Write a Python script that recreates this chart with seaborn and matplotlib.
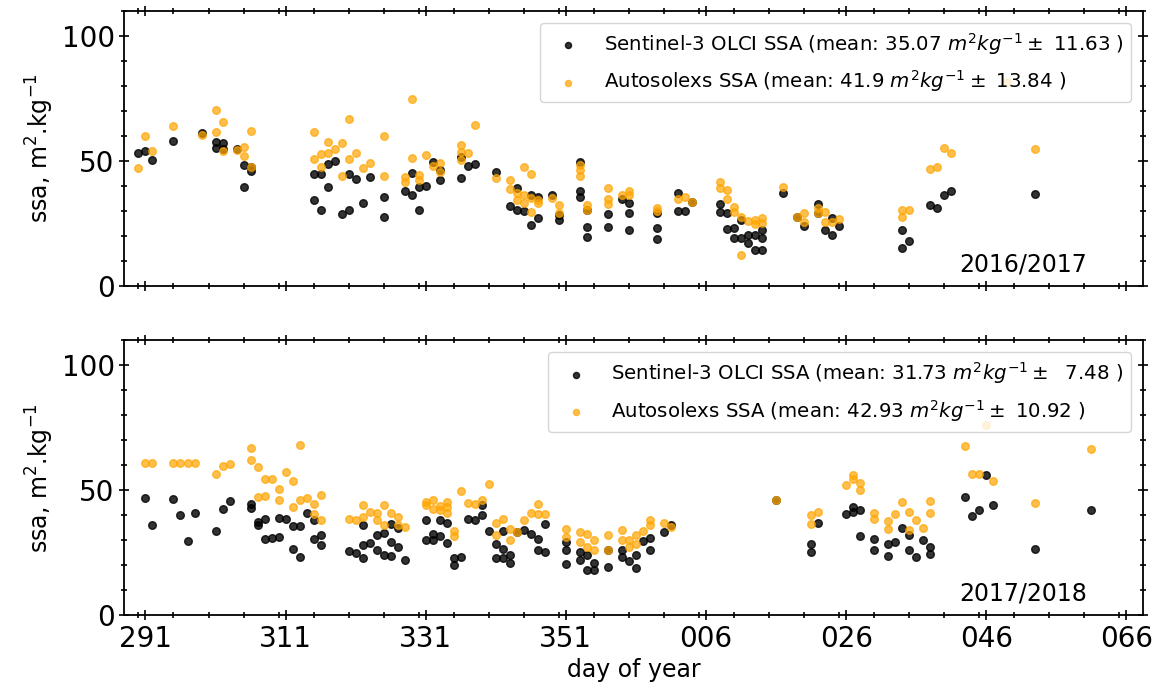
import matplotlib
matplotlib.use("Agg")
import matplotlib.pyplot as plt
from matplotlib.ticker import MultipleLocator
import seaborn as sns

# day of year, continuing past 365 for the new year (371 = day 006)
tick_pos = [291, 311, 331, 351, 371, 391, 411, 431]
tick_labels = ["291", "311", "331", "351", "006", "026", "046", "066"]

# 2016/2017 season
olci_day_1617 = [290, 291, 292, 295, 299, 301, 301, 302, 302, 304, 305, 305, 306, 306,
                 315, 315, 316, 316, 317, 317, 318, 319, 320, 320, 321, 322, 323, 325, 325,
                 328, 329, 329, 330, 330, 331, 332, 333, 333, 336, 336, 337, 338,
                 341, 343, 344, 344, 345, 346, 346, 347, 347, 349, 350, 350, 353, 353, 353,
                 354, 354, 354, 357, 357, 359, 360, 360, 360, 364, 364, 364, 367, 367, 368,
                 369, 373, 373, 374, 374, 375, 375, 376, 376, 377, 377, 378, 378, 379, 379, 379,
                 382, 384, 385, 387, 387, 388, 389, 389, 390, 399, 399, 400, 403, 404, 405,
                 406, 418]
olci_ssa_1617 = [53.0, 53.9, 50.3, 57.8, 61.2, 57.4, 55.2, 57.2, 54.9, 54.9, 48.3, 39.5, 45.9, 47.6,
                 44.7, 34.3, 44.7, 30.3, 48.7, 39.7, 49.9, 28.6, 44.7, 30.3, 42.6, 33.2, 43.4, 35.6, 27.4,
                 38.0, 36.3, 45.0, 30.5, 39.6, 39.9, 49.6, 42.3, 46.3, 43.2, 51.6, 47.9, 48.6,
                 45.4, 32.0, 39.0, 30.3, 30.0, 24.3, 36.3, 27.2, 35.6, 36.3, 26.3, 28.3, 49.4, 38.0, 35.6,
                 23.6, 19.6, 30.3, 28.7, 23.6, 34.7, 33.2, 29.0, 22.3, 29.0, 23.0, 18.7, 37.0, 30.0, 30.0,
                 33.6, 32.7, 29.6, 29.0, 22.7, 23.0, 19.0, 19.0, 26.3, 20.3, 17.2, 20.3, 14.3, 19.0, 14.3, 22.3,
                 37.0, 27.6, 23.9, 32.7, 29.0, 22.5, 20.3, 27.0, 23.9, 22.3, 15.0, 18.0, 32.3, 31.0, 36.3,
                 38.0, 36.7]
auto_day_1617 = [290, 291, 292, 295, 299, 301, 301, 302, 302, 304, 305, 305, 306, 306,
                 315, 315, 316, 316, 317, 317, 318, 319, 319, 320, 320, 321, 322, 323, 325, 325,
                 328, 328, 329, 329, 330, 330, 331, 332, 333, 333, 336, 336, 336, 337, 338,
                 341, 343, 343, 344, 344, 345, 345, 345, 346, 346, 346, 347, 347, 349, 350, 350,
                 353, 353, 353, 354, 354, 357, 357, 357, 359, 360, 360, 364, 364, 367, 368, 369,
                 373, 373, 374, 374, 375, 375, 376, 376, 377, 378, 378, 379, 379,
                 382, 384, 385, 385, 387, 387, 388, 388, 389, 390, 399, 399, 400, 403, 404,
                 405, 406, 414, 418]
auto_ssa_1617 = [47.2, 60.1, 53.9, 64.1, 60.3, 70.5, 61.6, 65.5, 53.9, 54.5, 55.6, 51.9, 61.9, 47.6,
                 61.4, 50.6, 52.7, 47.4, 57.6, 53.2, 54.7, 57.0, 44.0, 66.8, 50.8, 53.2, 47.0, 49.2, 59.9, 43.9,
                 41.6, 43.6, 51.0, 74.7, 44.3, 42.3, 52.2, 47.9, 49.0, 45.6, 56.3, 53.6, 50.3, 53.0, 64.3,
                 43.0, 42.3, 38.7, 37.0, 34.3, 47.4, 36.3, 33.0, 44.7, 35.0, 29.6, 34.3, 33.0, 35.0, 32.3, 29.0,
                 48.3, 46.3, 44.0, 32.3, 30.3, 39.3, 34.6, 32.7, 36.3, 38.0, 36.3, 31.1, 30.0, 34.7, 35.6, 33.6,
                 41.6, 39.0, 38.3, 34.6, 31.6, 29.6, 27.6, 12.3, 26.0, 26.3, 24.7, 27.0, 25.2,
                 39.6, 27.6, 29.0, 25.6, 31.0, 29.0, 29.6, 25.6, 25.6, 26.7, 27.6, 30.3, 30.3, 46.7, 47.4,
                 55.3, 53.2, 81.6, 54.9]

# 2017/2018 season
olci_day_1718 = [291, 292, 295, 296, 297, 298, 301, 302, 303, 306, 306, 307, 307, 308, 308, 309,
                 310, 310, 311, 312, 312, 313, 313, 314, 315, 315, 316, 316,
                 320, 321, 322, 322, 322, 323, 324, 324, 325, 325, 326, 326, 326, 327, 327, 328,
                 331, 331, 332, 332, 333, 333, 334, 334, 335, 335, 336, 337, 338, 339, 339, 340,
                 341, 341, 342, 342, 342, 343, 343, 344, 345, 346, 347, 347, 348, 348,
                 351, 351, 351, 353, 353, 354, 354, 355, 355, 357, 357, 359, 359, 360, 361, 361,
                 362, 363, 363, 365, 366,
                 381, 386, 386, 387, 391, 392, 392, 393, 393, 395, 395, 397, 397, 398, 399, 400,
                 400, 401, 402, 403, 403, 408, 409, 410, 411, 412, 418, 426]
olci_ssa_1718 = [46.9, 36.0, 46.7, 40.3, 29.6, 40.9, 33.6, 42.4, 45.7, 44.7, 42.9, 37.3, 36.3, 38.4, 30.7, 31.1,
                 31.3, 39.1, 38.4, 35.7, 26.7, 35.7, 23.1, 41.1, 38.0, 30.7, 32.0, 28.0,
                 25.6, 24.9, 22.7, 28.0, 36.0, 28.9, 32.0, 26.0, 33.0, 24.0, 36.7, 29.3, 23.6, 35.1, 27.3, 22.0,
                 38.0, 30.3, 30.3, 32.7, 38.0, 31.6, 36.9, 28.9, 22.7, 20.0, 23.1, 38.4, 38.0, 40.0, 44.0, 33.7,
                 28.4, 22.7, 33.7, 22.7, 26.7, 24.0, 20.7, 33.3, 34.3, 32.7, 26.0, 30.7, 25.3, 36.4,
                 20.4, 26.0, 29.3, 22.0, 25.3, 18.0, 24.0, 18.0, 20.7, 19.1, 26.0, 26.0, 23.3, 21.7, 18.7, 24.0,
                 29.7, 31.1, 26.3, 33.3, 36.0,
                 46.3, 28.4, 25.3, 36.9, 40.4, 43.3, 41.3, 42.3, 31.7, 30.7, 26.0, 28.4, 23.6, 29.3, 35.1, 32.0,
                 26.0, 23.1, 30.0, 27.3, 24.3, 47.3, 39.6, 42.0, 56.0, 44.3, 26.4, 42.3]
auto_day_1718 = [291, 292, 295, 296, 297, 298, 301, 302, 303, 306, 306, 307, 307, 308, 308, 309,
                 310, 310, 311, 312, 312, 313, 313, 314, 315, 315, 316, 316,
                 320, 321, 322, 322, 323, 324, 324, 325, 325, 326, 327, 327, 328,
                 331, 331, 332, 332, 333, 333, 334, 334, 334, 335, 335, 336, 337, 338, 339, 340,
                 341, 341, 342, 343, 343, 344, 345, 346, 347, 347, 348,
                 351, 351, 353, 353, 354, 354, 355, 355, 357, 357, 359, 359, 360, 360, 361, 361,
                 362, 363, 363, 365, 366,
                 381, 386, 386, 387, 391, 392, 392, 393, 393, 395, 395, 397, 397, 398, 399, 400,
                 400, 401, 402, 403, 403, 408, 409, 410, 411, 412, 418, 426]
auto_ssa_1718 = [61.1, 61.1, 61.1, 61.1, 61.1, 61.1, 56.5, 59.9, 60.7, 66.9, 62.0, 59.3, 47.3, 54.7, 47.7, 54.7,
                 50.7, 46.0, 57.2, 53.7, 43.3, 68.0, 46.0, 47.1, 40.7, 44.7, 48.0, 38.3,
                 38.5, 38.0, 44.0, 39.3, 41.3, 40.9, 38.0, 44.0, 36.0, 40.9, 39.3, 36.0, 35.3,
                 45.3, 44.0, 46.0, 42.7, 43.6, 42.3, 45.3, 43.3, 40.9, 33.7, 31.6, 49.6, 44.9, 44.4, 46.0, 52.4,
                 36.9, 32.0, 38.7, 34.7, 30.0, 33.3, 38.3, 40.9, 44.4, 40.7, 40.4,
                 34.7, 31.3, 33.3, 29.3, 32.7, 27.3, 30.0, 26.0, 32.0, 26.0, 34.3, 30.0, 30.0, 27.3, 32.0, 28.4,
                 33.7, 38.0, 36.0, 36.9, 35.3,
                 46.3, 40.0, 36.4, 41.3, 52.3, 56.0, 54.7, 53.1, 50.0, 41.1, 38.4, 37.7, 34.7, 40.7, 45.3, 41.3,
                 34.3, 38.0, 35.1, 45.7, 40.9, 67.6, 56.7, 56.7, 76.0, 53.6, 44.9, 66.7]

labels_1617 = [r"Sentinel-3 OLCI SSA (mean: 35.07 $m^2kg^{-1}\pm$ 11.63 )",
               r"Autosolexs SSA (mean: 41.9 $m^2kg^{-1}\pm$ 13.84 )"]
labels_1718 = [r"Sentinel-3 OLCI SSA (mean: 31.73 $m^2kg^{-1}\pm$  7.48 )",
               r"Autosolexs SSA (mean: 42.93 $m^2kg^{-1}\pm$ 10.92 )"]

sns.set_style("ticks")
plt.rcParams["font.family"] = ["DejaVu Sans"]
plt.rcParams.update({"text.color": "black", "axes.labelcolor": "black",
                     "xtick.color": "black", "ytick.color": "black",
                     "axes.edgecolor": "black"})

fig = plt.figure(figsize=(11.63, 6.92), dpi=100)
ax1 = fig.add_axes([0.107, 0.587, 0.876, 0.397])
ax2 = fig.add_axes([0.107, 0.111, 0.876, 0.397])

panels = [
    (ax1, olci_day_1617, olci_ssa_1617, auto_day_1617, auto_ssa_1617, labels_1617, "2016/2017"),
    (ax2, olci_day_1718, olci_ssa_1718, auto_day_1718, auto_ssa_1718, labels_1718, "2017/2018"),
]

for ax, od, os_, ad, as_, labs, season in panels:
    sns.scatterplot(x=od, y=os_, ax=ax, color="black", edgecolor="black", alpha=0.8,
                    s=30, linewidth=1.0, label=labs[0])
    sns.scatterplot(x=ad, y=as_, ax=ax, color="orange", edgecolor="orange", alpha=0.7,
                    s=30, linewidth=1.0, label=labs[1])
    ax.set_xlim(288, 433.4)
    ax.set_ylim(0, 110)
    ax.set_xticks(tick_pos)
    ax.set_yticks([0, 50, 100])
    ax.xaxis.set_minor_locator(MultipleLocator(5))
    ax.yaxis.set_minor_locator(MultipleLocator(10))
    ax.tick_params(which="both", direction="inout", top=True, right=True, width=1.2)
    ax.tick_params(which="major", length=7, labelsize=20)
    ax.tick_params(which="minor", length=4)
    for sp in ax.spines.values():
        sp.set_linewidth(1.3)
    ax.set_ylabel(r"ssa, m$^2$.kg$^{-1}$", fontsize=17)
    ax.text(0.945, 0.035, season, transform=ax.transAxes, ha="right", va="bottom", fontsize=17)
    ax.legend(loc="upper right", fontsize=14.2, framealpha=0.8, markerscale=0.8,
              labelspacing=0.6, borderaxespad=0.6)

ax1.set_xticklabels([])
ax2.set_xticklabels(tick_labels)
ax2.set_xlabel("day of year", fontsize=17)

fig.savefig("out.png", dpi=100)
